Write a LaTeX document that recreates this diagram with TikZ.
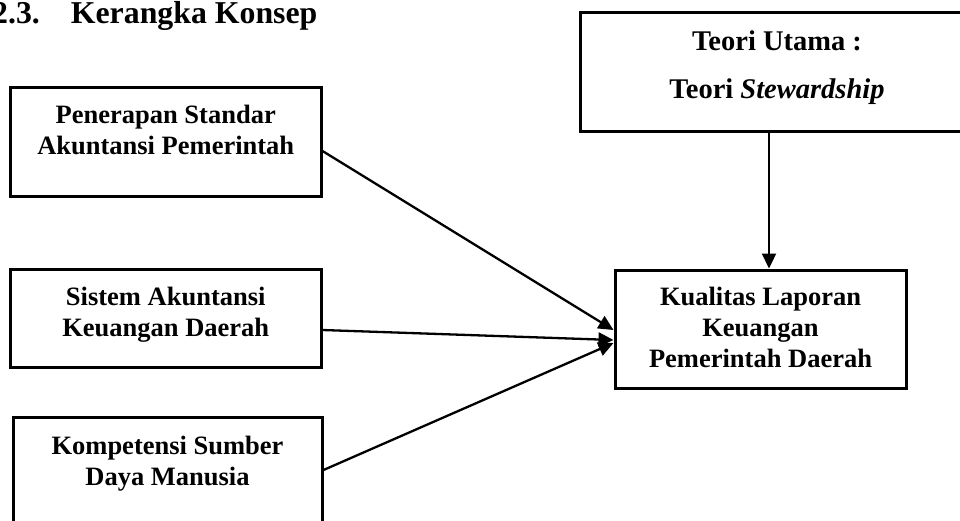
\documentclass[tikz,border=0pt]{standalone}
\usepackage{fontspec}
\setmainfont{Liberation Serif}
\usetikzlibrary{arrows.meta}

\begin{document}
\begin{tikzpicture}[x=1pt,y=-1pt]
    \tikzstyle{kotak}=[rectangle,draw,line width=3pt,inner sep=0pt]
    \tikzstyle{teks}=[align=center,inner sep=0pt,font=\fontsize{26.5}{31}\selectfont\bfseries]
    \tikzstyle{panah}=[line width=2.3pt,-{Triangle[length=15pt,width=14pt]}]
    \clip (0,0) rectangle (960,520);

    \node[anchor=base west,inner sep=0pt,font=\fontsize{31.8}{37}\selectfont\bfseries] (judul) at (-8,23) {2.3.\hspace{31pt}Kerangka Konsep};

    \node[kotak, minimum width=310.5pt, minimum height=109pt] (psap) at (165.75,142) {};
    \node[kotak, minimum width=310.5pt, minimum height=98pt]  (sakd) at (165.75,318) {};
    \node[kotak, minimum width=309pt,   minimum height=109pt] (ksdm) at (167.5,471.5) {};
    \node[kotak, minimum width=394pt,   minimum height=119pt] (teori) at (777,71.5) {};
    \node[kotak, minimum width=291pt,   minimum height=118pt] (kualitas) at (760.5,329) {};

    \node[teks, anchor=north] (psap-t) at ([yshift=-19pt]psap.north) {Penerapan Standar\\Akuntansi Pemerintah};
    \node[teks, anchor=north] (sakd-t) at ([yshift=-19.5pt]sakd.north) {Sistem Akuntansi\\Keuangan Daerah};
    \node[teks, anchor=north] (ksdm-t) at ([yshift=-20pt]ksdm.north) {Kompetensi Sumber\\Daya Manusia};
    \node[teks, anchor=north, font=\fontsize{28.5}{33}\selectfont\bfseries] (teori-t) at ([yshift=-20pt]teori.north) {Teori Utama :\\[15pt]Teori \textit{Stewardship}};
    \node[teks, anchor=north] (kualitas-t) at ([yshift=-18.5pt]kualitas.north) {Kualitas Laporan\\Keuangan\\Pemerintah Daerah};

    \draw[panah] ([yshift=-9pt]psap.east) -- ([yshift=-1pt]kualitas.west);
    \draw[panah] ([yshift=-12pt]sakd.east) -- ([yshift=-11pt]kualitas.west);
    \draw[panah] ([yshift=1.5pt]ksdm.east) -- ([yshift=-14pt]kualitas.west);
    \draw[panah] ([xshift=-8pt]teori.south) -- ([xshift=-8pt]teori.south |- kualitas.north);

\end{tikzpicture}
\end{document}
